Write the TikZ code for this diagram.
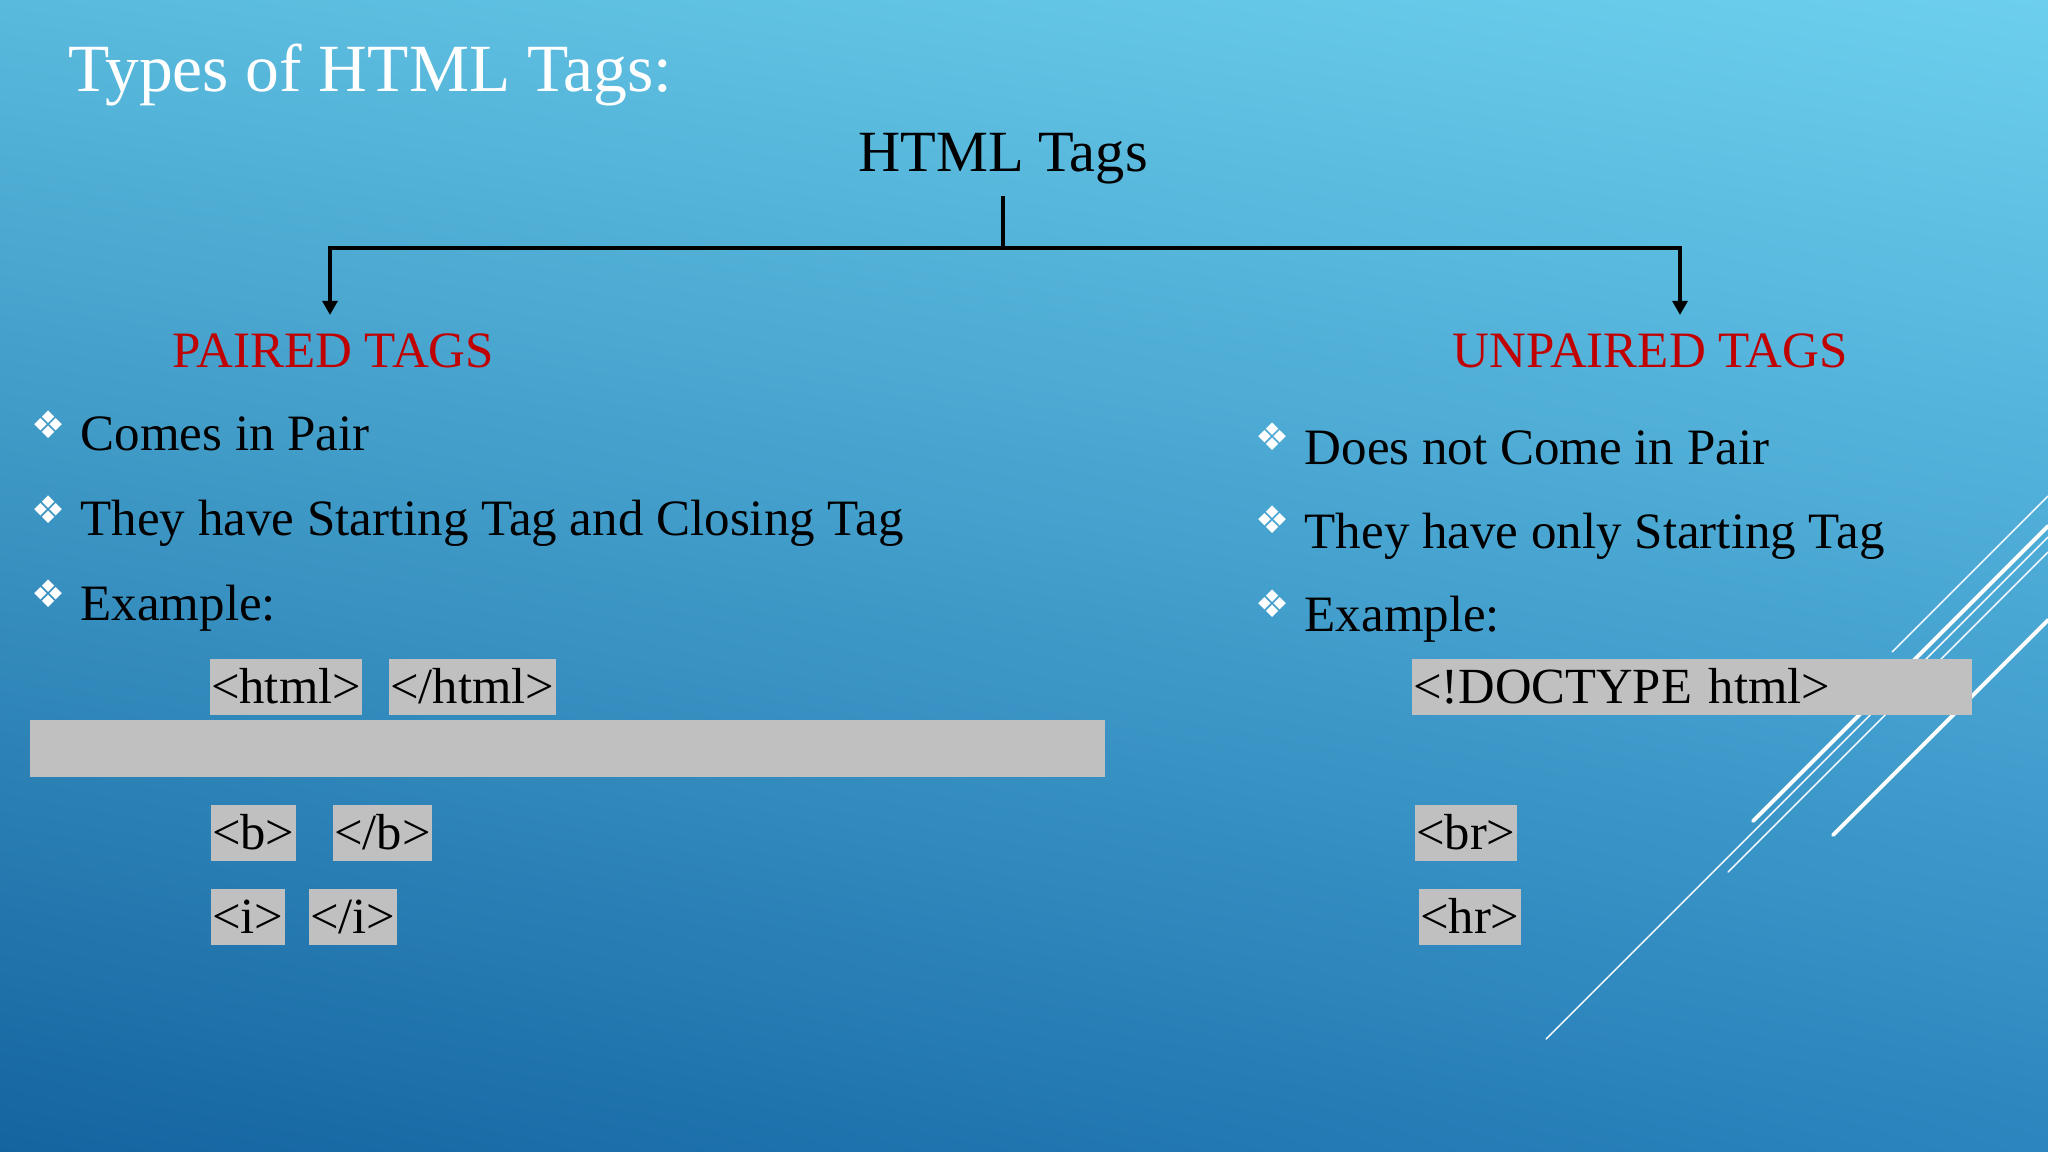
\documentclass[tikz,border=0pt]{standalone}
\usepackage{fontspec}
\setmainfont{Liberation Serif}
\newfontfamily\symfont{DejaVu Sans}
\usepackage{tikz}
\usetikzlibrary{arrows.meta,shadings}

\definecolor{bgtl}{RGB}{89,186,221}
\definecolor{bgtr}{RGB}{109,207,237}
\definecolor{bgbl}{RGB}{20,100,160}
\definecolor{bgbr}{RGB}{43,133,190}
\definecolor{taggray}{RGB}{192,192,192}
\definecolor{tagred}{RGB}{192,0,0}

\tikzset{
  bodytext/.style={anchor=base west,inner sep=0pt,font=\fontsize{14.5}{17}\selectfont},
  bulletmark/.style={white,inner sep=0pt,font=\symfont\fontsize{10.8}{12}\selectfont},
  tagbox/.style={anchor=base west,fill=taggray,inner xsep=0.4pt,inner ysep=0pt,
    text height=12.5pt,text depth=3.4pt,font=\fontsize{14.4}{17}\selectfont},
  typehead/.style={anchor=base west,inner sep=0pt,text=tagred,font=\fontsize{14.5}{17}\selectfont},
  conn/.style={line width=1.15pt},
  deco/.style={white,line cap=round}
}

\begin{document}
\begin{tikzpicture}[x=0.01cm,y=-0.01cm]

\shade [upper left=bgtl,upper right=bgtr,lower left=bgbl,lower right=bgbr] (0,0) rectangle (2048,1152);
\useasboundingbox (0,0) rectangle (2048,1152);

% slide decoration
\begin{scope}
\clip (0,0) rectangle (2048,1152);
\draw [deco,line width=0.4pt] (1892,652) -- (2048,496);
\draw [deco,line width=1.1pt] (1753,821) -- (2048,526);
\draw [deco,line width=0.4pt] (1546,1039) -- (2048,537);
\draw [deco,line width=0.4pt] (1728,872) -- (2048,552);
\draw [deco,line width=1.1pt] (1833,835) -- (2048,620);
\end{scope}

\node [anchor=base west,inner sep=0pt,white,font=\fontsize{19.2}{22}\selectfont] (title) at (68,92) {Types of HTML Tags:};

\node [anchor=base,inner sep=3pt,font=\fontsize{16.6}{20}\selectfont] (root) at (1003,172) {HTML Tags};

\node [typehead] (paired) at (172,368) {PAIRED TAGS};
\node [typehead] (unpaired) at (1452,368) {UNPAIRED TAGS};

\coordinate (split) at (1003,248);
\coordinate (pairtip) at (330,315);
\coordinate (unpairtip) at (1680,315);

\draw [conn] (root.south) -- (split);
\draw [conn,-{Triangle[width=4.2pt,length=4pt]}] (split) -| (pairtip);
\draw [conn,-{Triangle[width=4.2pt,length=4pt]}] (split) -| (unpairtip);

% paired side
\node [bulletmark] (pb1) at (49,425) {❖};
\node [bulletmark] (pb2) at (49,510) {❖};
\node [bulletmark] (pb3) at (49,594) {❖};
\node [bodytext] (pt1) at (80,451) {Comes in Pair};
\node [bodytext] (pt2) at (80,535) {They have Starting Tag and Closing Tag};
\node [bodytext] (pt3) at (80,620) {Example:};

\node [tagbox] (htmlopen) at (209,703) {<html>};
\node [tagbox] (htmlclose) at (388,703) {</html>};
\fill [taggray] (30,720) rectangle (1105,777);
\node [tagbox] (bopen) at (210,849) {<b>};
\node [tagbox] (bclose) at (332,849) {</b>};
\node [tagbox] (iopen) at (210,933) {<i>};
\node [tagbox] (iclose) at (308,933) {</i>};

% unpaired side
\node [bulletmark] (ub1) at (1273,437) {❖};
\node [bulletmark] (ub2) at (1273,520) {❖};
\node [bulletmark] (ub3) at (1273,604) {❖};
\node [bodytext] (ut1) at (1304,465) {Does not Come in Pair};
\node [bodytext] (ut2) at (1304,549) {They have only Starting Tag};
\node [bodytext] (ut3) at (1304,632) {Example:};

\node [tagbox,text width=158.4pt,align=left] (doctype) at (1411,703) {<!DOCTYPE html>};
\node [tagbox] (br) at (1414,849) {<br>};
\node [tagbox] (hr) at (1418,933) {<hr>};

\end{tikzpicture}
\end{document}
